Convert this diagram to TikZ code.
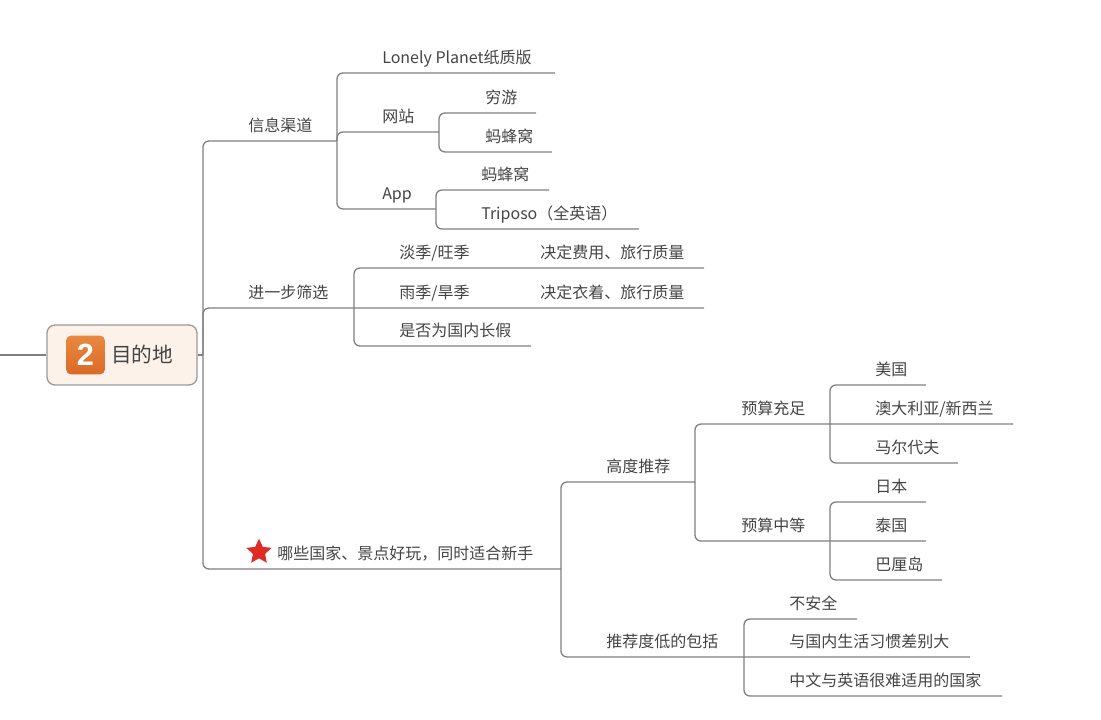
\documentclass[tikz,border=0pt]{standalone}
\usepackage{fontspec}
\setmainfont{Noto Sans CJK SC}
\newfontfamily\badgefont{Liberation Sans}
\usetikzlibrary{shapes.geometric}

\definecolor{linegray}{HTML}{808080}
\definecolor{textgray}{HTML}{444444}
\definecolor{rootfill}{HTML}{FDF2EA}
\definecolor{badgetop}{HTML}{E9883F}
\definecolor{badgebottom}{HTML}{DA6A28}
\definecolor{starred}{HTML}{DE2B26}

\tikzset{
	branch/.style={draw=linegray, line width=1pt, rounded corners=4.5pt},
	topic/.style={anchor=mid west, inner sep=0pt, text=textgray, font=\fontsize{12}{14}\selectfont},
	rootbox/.style={draw=linegray!80, line width=1pt, fill=rootfill, rounded corners=6pt, minimum width=112.5pt, minimum height=45pt},
	badge/.style={rounded corners=3.5pt, top color=badgetop, bottom color=badgebottom, minimum size=29pt, inner sep=0pt, text=white}
}

\begin{document}
\begin{tikzpicture}[x=0.75pt, y=-0.75pt]
	\useasboundingbox (0,0) rectangle (1101,720);

	% Root
	\node[rootbox] (root) at (122,355) {};
	\node[badge, font=\badgefont\bfseries\fontsize{23}{23}\selectfont] (rootnum) at (85.5,355) {2};
	\node[topic, font=\fontsize{15.5}{17}\selectfont] (roottext) at (111,359) {目的地};
	\coordinate (rootIn) at (0,355);
	\coordinate (rootEnd) at (203,355);
	\draw[branch] (rootIn) -- (root.west);
	\draw[branch] (root.east) -- (rootEnd);

	% Topics: name / text left / line y / line right / text
	\foreach \nm/\x/\y/\xr/\txt in {
		info/248/141/337/信息渠道,
		filter/248/308/354/进一步筛选,
		where/277/569/561/哪些国家、景点好玩，同时适合新手,
		lonely/382/73/555/Lonely Planet纸质版,
		web/382/132/439/网站,
		app/382/209/436/App,
		qyer/485/113/536/穷游,
		mfwWeb/485/152/552/蚂蜂窝,
		mfwApp/481/190/549/蚂蜂窝,
		triposo/481/229/639/Triposo（全英语）,
		season/399/268/495/{淡季/旺季},
		rain/399/308/495/{雨季/旱季},
		holiday/399/346/531/是否为国内长假,
		cost/540/268/704/决定费用、旅行质量,
		wear/540/308/704/决定衣着、旅行质量,
		high/606/482/695/高度推荐,
		low/606/657/744/推荐度低的包括,
		rich/741/424/830/预算充足,
		mid/741/541/830/预算中等,
		usa/875/385/926/美国,
		aus/875/424/1013/{澳大利亚/新西兰},
		mdv/875/463/958/马尔代夫,
		jpn/875/502/926/日本,
		tha/875/541/926/泰国,
		bali/875/580/942/巴厘岛,
		unsafe/789/619/857/不安全,
		habit/789/657/970/与国内生活习惯差别大,
		english/789/696/1002/中文与英语很难适用的国家%
	} {
		\node[topic] (\nm) at (\x,\y-13.5) {\txt};
		\coordinate (\nm End) at (\xr,\y);
	}

	% Star
	\node[star, star points=5, star point ratio=2.1, fill=starred, inner sep=0pt, minimum size=20pt] (star) at (259,552) {};

	% Branches
	\foreach \from/\to in {
		rootEnd/infoEnd, rootEnd/whereEnd,
		infoEnd/lonelyEnd, infoEnd/webEnd, infoEnd/appEnd,
		webEnd/qyerEnd, webEnd/mfwWebEnd,
		appEnd/mfwAppEnd, appEnd/triposoEnd,
		filterEnd/holidayEnd, whereEnd/highEnd,
		richEnd/usaEnd, richEnd/mdvEnd,
		midEnd/jpnEnd, midEnd/baliEnd,
		lowEnd/unsafeEnd, lowEnd/englishEnd%
	} {
		\draw[branch] (\from) |- (\to);
	}

	% Branches that run straight on
	\foreach \from/\via/\to in {
		rootEnd/rainEnd/wearEnd, filterEnd/seasonEnd/costEnd,
		whereEnd/lowEnd/habitEnd,
		highEnd/richEnd/ausEnd, highEnd/midEnd/thaEnd%
	} {
		\draw[branch] (\from) |- (\via) -- (\to);
	}

\end{tikzpicture}
\end{document}
